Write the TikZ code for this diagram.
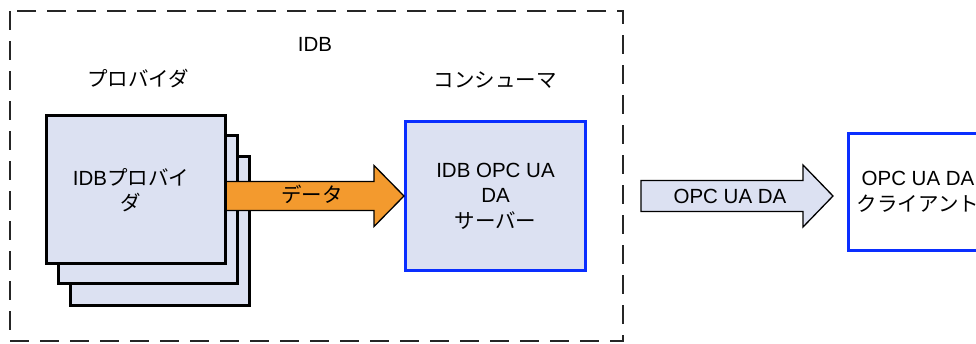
\documentclass[tikz,border=0pt]{standalone}
\usepackage{fontspec}
\setmainfont{Liberation Sans}
\newfontfamily\jp{Noto Sans CJK JP}
\usetikzlibrary{calc}
\definecolor{lav}{HTML}{DCE1F2}
\definecolor{orng}{HTML}{F39A2E}
\definecolor{bluel}{HTML}{0A2EFF}
\begin{document}
\begin{tikzpicture}[x=1pt,y=-1pt,
  every node/.style={font=\fontsize{20.5}{25.5}\selectfont, inner sep=0pt, align=center},
  stackbox/.style={draw=black, line width=3pt, fill=lav, minimum width=179pt, minimum height=148pt},
  bluebox/.style={draw=bluel, line width=3pt, minimum width=180pt, minimum height=149pt},
  frame/.style={draw=black!85, line width=1.5pt, dash pattern=on 19pt off 11pt},
  fatarrow/.style={draw=black, line width=1.3pt, line join=miter}
]
\useasboundingbox (0,0) rectangle (976,344);
% outer dashed frame
\draw[frame] (10,11) rectangle (623,341);
\node (idb) at (315,44) {IDB};
\node (prov) at (138,79) {\jp プロバイダ};
\node (cons) at (495,80) {\jp コンシューマ};
% stacked provider boxes
\node[stackbox] (p3) at (159.5,231) {};
\node[stackbox] (p2) at (148,210) {};
\node[stackbox] (p1) at (136,189.5) {};
\node (p1t) at (131,190) {IDB{\jp プロバイ}\\{\jp ダ}};
% server box
\node[bluebox, fill=lav] (srv) at (495.5,196) {IDB OPC UA\\DA\\{\jp サーバー}};
% client box
\node[bluebox, fill=white, minimum width=139pt, minimum height=117pt] (cli) at (918,192) {OPC UA DA\\{\jp クライアント}};
% data arrow
\coordinate (a1s) at (p1.east |- srv.west);
\filldraw[fatarrow, fill=orng]
  ($(a1s)+(0,-14.5)$) -- ($(srv.west)+(-30,-14.5)$) -- ($(srv.west)+(-30,-30.5)$)
  -- (srv.west) -- ($(srv.west)+(-30,30.5)$) -- ($(srv.west)+(-30,14.5)$) -- ($(a1s)+(0,14.5)$);
\node (dat) at (312,194) {\jp データ};
% OPC UA DA arrow
\coordinate (a2s) at (641,196);
\coordinate (a2t) at (833,196);
\filldraw[fatarrow, fill=lav]
  ($(a2s)+(0,-15.5)$) -- ($(a2t)+(-30,-15.5)$) -- ($(a2t)+(-30,-31)$) -- (a2t)
  -- ($(a2t)+(-30,31)$) -- ($(a2t)+(-30,15.5)$) -- ($(a2s)+(0,15.5)$) -- cycle;
\node (opc) at (730,196) {OPC UA DA};
\end{tikzpicture}
\end{document}
